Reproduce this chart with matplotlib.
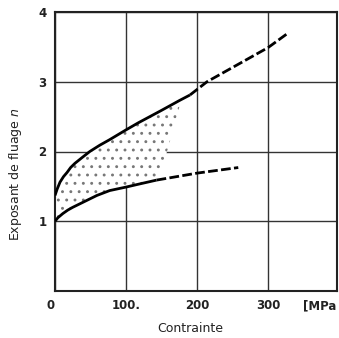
import matplotlib
matplotlib.use("Agg")
import matplotlib.pyplot as plt

# Upper curve (solid part then dashed extrapolation)
upper_x = [0, 3, 7, 12, 17, 22, 28, 39, 49, 63, 77, 100, 117, 150, 175, 190]
upper_y = [1.37, 1.46, 1.56, 1.64, 1.70, 1.77, 1.83, 1.92, 2.0, 2.09, 2.17, 2.31, 2.41, 2.59, 2.73, 2.81]
upper_dash_x = [190, 214, 300, 327]
upper_dash_y = [2.81, 3.0, 3.49, 3.69]

# Lower curve
lower_x = [0, 4, 11, 18, 25, 39, 59, 77, 100, 117, 143]
lower_y = [1.0, 1.05, 1.11, 1.16, 1.20, 1.27, 1.37, 1.44, 1.49, 1.53, 1.59]
lower_dash_x = [143, 200, 258]
lower_dash_y = [1.59, 1.69, 1.77]

# Shaded (stippled) zone boundary
shade_top_x = [0, 3, 7, 12, 17, 22, 28, 39, 49, 63, 77, 100, 117, 150, 178]
shade_top_y = [1.37, 1.46, 1.56, 1.64, 1.70, 1.77, 1.83, 1.92, 2.0, 2.09, 2.17, 2.31, 2.41, 2.59, 2.75]
shade_bot_x = [155, 143, 117, 100, 77, 59, 39, 25, 18, 11, 4, 0]
shade_bot_y = [1.9, 1.59, 1.53, 1.49, 1.44, 1.37, 1.27, 1.20, 1.16, 1.11, 1.05, 1.0]

xticks = [0, 100, 200, 300]
xticklabels = ["0", "100.", "200", "300"]
unit_label = "[MPa"
yticks = [1, 2, 3, 4]
yticklabels = ["1", "2", "3", "4"]

plt.rcParams['hatch.linewidth'] = 0.9
plt.rcParams['hatch.color'] = "#666666"

fig = plt.figure(figsize=(3.39, 3.38), dpi=100)
ax = fig.add_axes([55/339, 1-291/338, (337-55)/339, (291-12)/338])

poly_x = shade_top_x + shade_bot_x
poly_y = shade_top_y + shade_bot_y
ax.fill(poly_x, poly_y, facecolor="white", edgecolor="#777777", linewidth=0, hatch="..", zorder=1)

ax.plot(upper_x, upper_y, color="black", lw=2.0, zorder=3, solid_capstyle="butt")
ax.plot(upper_dash_x, upper_dash_y, color="black", lw=2.0, ls=(0, (3.5, 1.2)), zorder=3)
ax.plot(lower_x, lower_y, color="black", lw=2.0, zorder=3, solid_capstyle="butt")
ax.plot(lower_dash_x, lower_dash_y, color="black", lw=2.0, ls=(0, (3.5, 1.2)), zorder=3)

ax.set_xlim(0, 397)
ax.set_ylim(0, 4)
ax.set_xticks(xticks)
ax.set_xticklabels(xticklabels)
ax.set_yticks(yticks)
ax.set_yticklabels(yticklabels)
tick_font = dict(family=["Liberation Sans Narrow", "DejaVu Sans"], fontweight="bold", fontsize=8.5, color="#222222")
for lbl in ax.get_xticklabels() + ax.get_yticklabels():
    lbl.set_family(tick_font["family"])
    lbl.set_fontweight("bold")
    lbl.set_fontsize(8.5)
    lbl.set_color("#222222")
ax.get_xticklabels()[0].set_horizontalalignment("right")
ax.tick_params(length=0, pad=6)
ax.text(0.94, -0.055, unit_label, transform=ax.transAxes, ha="center", va="center", **tick_font)
ax.grid(True, color="#333333", lw=1.0)
ax.set_axisbelow(True)
for s in ax.spines.values():
    s.set_linewidth(1.5)
    s.set_color("#222222")

ax.set_xlabel("Contrainte", fontsize=9, family="DejaVu Sans", color="#222222")
ax.xaxis.set_label_coords(0.48, -0.11)
ax.set_ylabel("Exposant de fluage $n$", fontsize=9, family="DejaVu Sans", color="#222222")
ax.yaxis.set_label_coords(-0.11, 0.42)

fig.savefig("out.png", dpi=100)
